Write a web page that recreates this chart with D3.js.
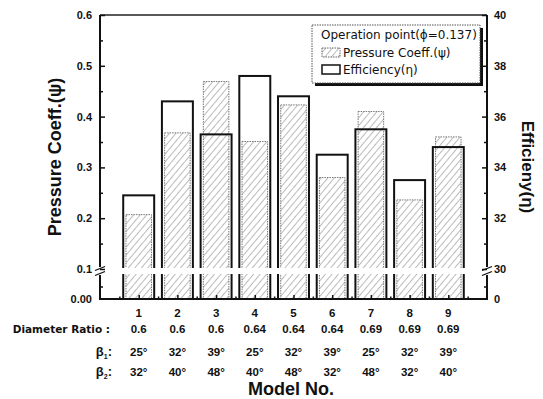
<!DOCTYPE html>
<html>
<head>
<meta charset="utf-8">
<script src="https://cdn.jsdelivr.net/npm/d3@7"></script>
<style>
  body { margin: 0; background: #fff; }
  svg { display: block; font-family: "Liberation Sans", Arial, sans-serif; }
</style>
</head>
<body>
<div id="chart"></div>
<script>
// data
const models = [1, 2, 3, 4, 5, 6, 7, 8, 9];
const diameterRatio = ["0.6", "0.6", "0.6", "0.64", "0.64", "0.64", "0.69", "0.69", "0.69"];
const beta1 = [25, 32, 39, 25, 32, 39, 25, 32, 39];
const beta2 = [32, 40, 48, 40, 48, 32, 48, 32, 40];
const pressureCoeff = [0.207, 0.368, 0.469, 0.351, 0.423, 0.280, 0.410, 0.236, 0.360];
const efficiency = [32.9, 36.6, 35.3, 37.6, 36.8, 34.5, 35.5, 33.5, 34.8];
const leftTicks = [0.1, 0.2, 0.3, 0.4, 0.5, 0.6];
const rightTicks = [30, 32, 34, 36, 38, 40];

const width = 543, height = 399;
const plot = {left: 100, right: 487, top: 15, bottom: 299, breakTop: 268, breakBottom: 274};
const wideFont = "'DejaVu Sans', sans-serif";

const svg = d3.select("#chart").append("svg")
    .attr("width", width)
    .attr("height", height);

// hatch for pressure bars
let defs = svg.append("defs");
let pat = defs.append("pattern")
    .attr("id", "hatch")
    .attr("patternUnits", "userSpaceOnUse")
    .attr("width", 5).attr("height", 5)
    .attr("patternTransform", "rotate(40)");
pat.append("rect").attr("width", 5).attr("height", 5).attr("fill", "#fff");
pat.append("line")
    .attr("x1", 0).attr("y1", 0).attr("x2", 0).attr("y2", 5)
    .attr("stroke", "#555").attr("stroke-width", 0.8);

// scales: broken y axis -> upper and lower segments
let x = d3.scaleLinear().domain([0, 10]).range([plot.left, plot.right]);
let yUp = d3.scaleLinear().domain([0.1, 0.6]).range([plot.breakTop + 1, plot.top]);
let yLow = d3.scaleLinear().domain([0, 0.05]).range([plot.bottom, plot.breakBottom]);
let eUp = d3.scaleLinear().domain([30, 40]).range([plot.breakTop + 1, plot.top]);
let eLow = d3.scaleLinear().domain([0, 5]).range([plot.bottom, plot.breakBottom]);

// pressure bars (hatched, dotted outline)
svg.append("g").selectAll("rect").data(pressureCoeff).enter().append("rect")
    .attr("x", (d, i) => x(models[i] - 0.33))
    .attr("width", x(0.66) - x(0))
    .attr("y", d => yUp(d))
    .attr("height", d => yLow(0) - yUp(d))
    .attr("fill", "url(#hatch)")
    .attr("stroke", "#777")
    .attr("stroke-width", 1)
    .attr("stroke-dasharray", "1.5,1");

// efficiency bars (open, thick outline)
svg.append("g").selectAll("rect").data(efficiency).enter().append("rect")
    .attr("x", (d, i) => x(models[i] - 0.4))
    .attr("width", x(0.8) - x(0))
    .attr("y", d => eUp(d))
    .attr("height", d => eLow(0) - eUp(d))
    .attr("fill", "none")
    .attr("stroke", "#111")
    .attr("stroke-width", 2);

// white band of the axis break
svg.append("rect")
    .attr("x", plot.left + 1).attr("y", plot.breakTop)
    .attr("width", plot.right - plot.left - 2)
    .attr("height", plot.breakBottom - plot.breakTop)
    .attr("fill", "#fff");

// top frame
svg.append("line")
    .attr("x1", plot.left).attr("x2", plot.right)
    .attr("y1", plot.top).attr("y2", plot.top)
    .attr("stroke", "#222").attr("stroke-width", 1.5);

function styleAxis(g) {
    g.selectAll("text").attr("font-size", 11).attr("font-weight", "bold").attr("fill", "#111");
    g.selectAll("line").attr("stroke", "#111").attr("stroke-width", 1.5);
    g.select(".domain").remove();
}

// left axis
let leftG = svg.append("g").attr("transform", "translate(" + plot.left + ",0)");
leftG.append("g").call(d3.axisLeft(yUp).tickValues(leftTicks).tickFormat(d3.format(".1f"))
    .tickSize(-5).tickPadding(8)).call(styleAxis);
leftG.append("g").call(d3.axisLeft(yUp).tickValues([0.15, 0.25, 0.35, 0.45, 0.55])
    .tickFormat("").tickSize(-3)).call(styleAxis);
leftG.append("g").call(d3.axisLeft(yLow).tickValues([0]).tickFormat(d3.format(".2f"))
    .tickSize(0).tickPadding(8)).call(styleAxis);
leftG.append("g").call(d3.axisLeft(yLow).tickValues([0.025]).tickFormat("").tickSize(-3)).call(styleAxis);

// right axis
let rightG = svg.append("g").attr("transform", "translate(" + plot.right + ",0)");
rightG.append("g").call(d3.axisRight(eUp).tickValues(rightTicks).tickFormat(d3.format("d"))
    .tickSize(-5).tickPadding(7)).call(styleAxis);
rightG.append("g").call(d3.axisRight(eUp).tickValues([31, 33, 35, 37, 39])
    .tickFormat("").tickSize(-3)).call(styleAxis);
rightG.append("g").call(d3.axisRight(eLow).tickValues([0]).tickFormat(d3.format("d"))
    .tickSize(0).tickPadding(7)).call(styleAxis);
rightG.append("g").call(d3.axisRight(eLow).tickValues([2.5]).tickFormat("").tickSize(-3)).call(styleAxis);

// axis lines with break
[plot.left, plot.right].forEach(function(ax) {
    svg.append("line").attr("x1", ax).attr("x2", ax)
        .attr("y1", plot.top).attr("y2", plot.breakTop - 1)
        .attr("stroke", "#111").attr("stroke-width", 2);
    svg.append("line").attr("x1", ax).attr("x2", ax)
        .attr("y1", plot.breakBottom + 1).attr("y2", plot.bottom)
        .attr("stroke", "#111").attr("stroke-width", 2);
    [-2.5, 2.5].forEach(function(o) {
        svg.append("line")
            .attr("x1", ax - 5).attr("x2", ax + 5)
            .attr("y1", plot.breakTop + 3 + o + 2).attr("y2", plot.breakTop + 3 + o - 2)
            .attr("stroke", "#111").attr("stroke-width", 1.3);
    });
});

// bottom axis
let bottomG = svg.append("g").attr("transform", "translate(0," + plot.bottom + ")");
bottomG.append("g").call(d3.axisBottom(x).tickValues(models).tickFormat("").tickSize(-4)).call(styleAxis);
bottomG.append("g").call(d3.axisBottom(x).tickValues(d3.range(0.5, 10, 1)).tickFormat("").tickSize(-2.5)).call(styleAxis);
svg.append("line")
    .attr("x1", plot.left - 1).attr("x2", plot.right + 1)
    .attr("y1", plot.bottom).attr("y2", plot.bottom)
    .attr("stroke", "#111").attr("stroke-width", 2);

// table under the x axis
let table = svg.append("g").attr("font-size", 11.5).attr("font-weight", "bold").attr("fill", "#111");
let rows = [
    {y: 317, vals: models.map(String)},
    {y: 333, vals: diameterRatio},
    {y: 356, vals: beta1.map(d => d + "°")},
    {y: 376, vals: beta2.map(d => d + "°")}
];
rows.forEach(function(r) {
    table.append("g").selectAll("text").data(r.vals).enter().append("text")
        .attr("x", (d, i) => x(models[i]))
        .attr("y", r.y)
        .attr("text-anchor", "middle")
        .text(d => d);
});
table.append("text").attr("x", 110).attr("y", 333).attr("text-anchor", "end")
    .attr("font-family", wideFont).attr("font-size", 10.5)
    .text("Diameter Ratio :");
let b1 = table.append("text").attr("x", 112).attr("y", 356).attr("text-anchor", "end").attr("font-size", 13);
b1.append("tspan").text("β");
b1.append("tspan").attr("font-size", 7).attr("dy", 3).text("1");
b1.append("tspan").attr("dy", -3).text(":");
let b2 = table.append("text").attr("x", 112).attr("y", 376).attr("text-anchor", "end").attr("font-size", 13);
b2.append("tspan").text("β");
b2.append("tspan").attr("font-size", 7).attr("dy", 3).text("2");
b2.append("tspan").attr("dy", -3).text(":");

// axis titles
svg.append("text")
    .attr("x", 291).attr("y", 395)
    .attr("text-anchor", "middle")
    .attr("font-size", 18).attr("font-weight", "bold").attr("fill", "#111")
    .text("Model No.");
svg.append("text")
    .attr("transform", "translate(61,157) rotate(-90)")
    .attr("text-anchor", "middle")
    .attr("font-size", 18).attr("font-weight", "bold").attr("fill", "#111")
    .text("Pressure Coeff.(ψ)");
svg.append("text")
    .attr("transform", "translate(522,167) rotate(90)")
    .attr("text-anchor", "middle")
    .attr("font-size", 17).attr("font-weight", "bold").attr("fill", "#111")
    .text("Efficieny(η)");

// legend
let legend = svg.append("g").attr("font-family", wideFont);
legend.append("rect").attr("x", 315).attr("y", 28).attr("width", 168).attr("height", 58).attr("fill", "#111");
legend.append("rect").attr("x", 312).attr("y", 25).attr("width", 168).attr("height", 58)
    .attr("fill", "#fff").attr("stroke", "#555").attr("stroke-width", 1).attr("stroke-dasharray", "1.5,1");
legend.append("text").attr("x", 321).attr("y", 39).attr("font-size", 12).attr("fill", "#111")
    .text("Operation point(ϕ=0.137)");
legend.append("rect").attr("x", 322).attr("y", 48).attr("width", 18).attr("height", 9)
    .attr("fill", "url(#hatch)").attr("stroke", "#666").attr("stroke-dasharray", "1.5,1");
legend.append("text").attr("x", 343).attr("y", 57).attr("font-size", 12).attr("fill", "#111")
    .text("Pressure Coeff.(ψ)");
legend.append("rect").attr("x", 322).attr("y", 65).attr("width", 18).attr("height", 9)
    .attr("fill", "none").attr("stroke", "#111").attr("stroke-width", 1.5);
legend.append("text").attr("x", 343).attr("y", 74).attr("font-size", 12).attr("fill", "#111")
    .text("Efficiency(η)");
</script>
</body>
</html>
